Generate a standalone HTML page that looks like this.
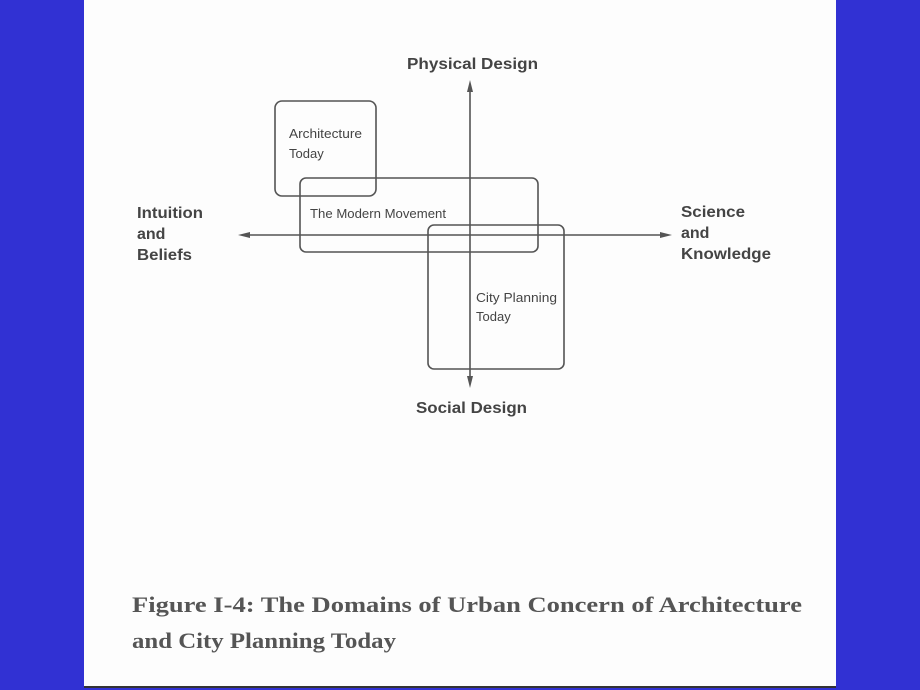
<!DOCTYPE html>
<html><head><style>
body{margin:0;width:920px;height:690px;background:#3131d3;overflow:hidden;position:relative}
.p{position:absolute;left:84px;top:0;width:752px;height:686px;background:#fdfdfd;border-bottom:2px solid #333}
svg{position:absolute;left:0;top:0}
</style></head><body>
<div class="p"></div>
<svg width="920" height="690" font-family="Liberation Sans, sans-serif" fill="#444">
<g stroke="#555" stroke-width="1.6" fill="none">
<rect x="275" y="101" width="101" height="95" rx="7"/>
<rect x="300" y="178" width="238" height="74" rx="6"/>
<rect x="428" y="225" width="136" height="144" rx="6"/>
<line x1="470" y1="88" x2="470" y2="380"/>
<line x1="246" y1="235" x2="664" y2="235"/>
</g>
<g fill="#555">
<polygon points="470,80 467,92 473,92"/>
<polygon points="470,388 467,376 473,376"/>
<polygon points="238,235 250,232 250,238"/>
<polygon points="672,235 660,232 660,238"/>
</g>
<g font-weight="bold" font-size="16">
<text x="407" y="69" textLength="131" lengthAdjust="spacingAndGlyphs">Physical Design</text>
<text x="416" y="413" textLength="111" lengthAdjust="spacingAndGlyphs">Social Design</text>
<text x="137" y="218" textLength="66" lengthAdjust="spacingAndGlyphs">Intuition</text><text x="137" y="239">and</text><text x="137" y="260" textLength="55" lengthAdjust="spacingAndGlyphs">Beliefs</text>
<text x="681" y="217" textLength="64" lengthAdjust="spacingAndGlyphs">Science</text><text x="681" y="238">and</text><text x="681" y="259" textLength="90" lengthAdjust="spacingAndGlyphs">Knowledge</text>
</g>
<g font-size="13">
<text x="289" y="138" textLength="73" lengthAdjust="spacingAndGlyphs">Architecture</text><text x="289" y="158">Today</text>
<text x="310" y="218" textLength="136" lengthAdjust="spacingAndGlyphs">The Modern Movement</text>
<text x="476" y="302" textLength="81" lengthAdjust="spacingAndGlyphs">City Planning</text><text x="476" y="321">Today</text>
</g>
<g font-family="Liberation Serif, serif" font-weight="bold" font-size="22" fill="#555">
<text x="132" y="612" textLength="670" lengthAdjust="spacingAndGlyphs">Figure I-4: The Domains of Urban Concern of Architecture</text>
<text x="132" y="648" textLength="264" lengthAdjust="spacingAndGlyphs">and City Planning Today</text>
</g>
</svg>
</body></html>
